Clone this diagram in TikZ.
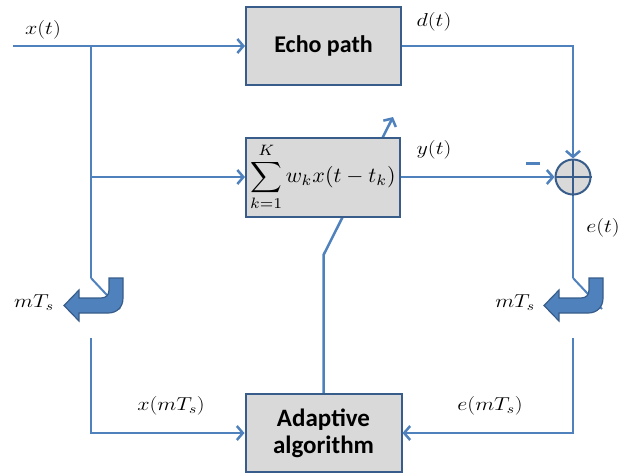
\RequirePackage{fix-cm}
\documentclass[tikz,border=0pt]{standalone}
\usepackage{fontspec}
\newfontfamily\boxfont{Carlito}
\usetikzlibrary{arrows.meta}
\definecolor{lineblue}{HTML}{4F81BD}
\definecolor{edgeblue}{HTML}{385D8A}
\definecolor{boxgray}{HTML}{D9D9D9}
\pgfdeclarelayer{bg}
\pgfsetlayers{bg,main}
\newcommand{\lbl}[1]{\scalebox{1.3}[1.1]{\fontsize{17}{20}\selectfont$#1$}}
\begin{document}
\begin{tikzpicture}[x=1pt,y=-1pt,
  wire/.style={draw=lineblue,line width=2.5pt},
  arr/.style={-{Straight Barb[length=6pt,width=14pt]}},
  blk/.style={draw=edgeblue,fill=boxgray,line width=2pt,inner sep=0pt},
  lab/.style={inner sep=0pt,text=black},
  swarrow/.style={fill=lineblue,draw=edgeblue,line width=1.2pt}]
\useasboundingbox (0,0) rectangle (642,475);

\node[blk,minimum width=155pt,minimum height=78pt,font=\boxfont\bfseries\fontsize{24}{28}\selectfont] (echo) at (323.5,46)
  {Echo path};
\node[blk,minimum width=154pt,minimum height=79pt] (filt) at (323,177)
  {\scalebox{2.2}[2.15]{$\displaystyle\sum_{k=1}^{K} w_k x(t-t_k)$}};
\node[blk,minimum width=156pt,minimum height=78pt,align=center,font=\boxfont\bfseries\fontsize{25}{27}\selectfont] (adapt) at (323.5,433)
  {Adaptive\\algorithm};
\node[circle,draw=edgeblue,fill=boxgray,line width=2pt,minimum size=35pt,inner sep=0pt] (sum) at (573,177) {};
\draw[edgeblue,line width=2pt] (sum.north) -- (sum.south) (sum.west) -- (sum.east);

\coordinate (xin) at (13,46);
\coordinate (br1) at (91,46);
\coordinate (br2) at (91,177);
\coordinate (swLa) at (91,278);
\coordinate (swLb) at (120,309);
\coordinate (xs) at (91,338);
\coordinate (swRa) at (573,278);
\coordinate (swRb) at (602,309);
\coordinate (es) at (573,338);
\coordinate (bend) at (323,255);
\coordinate (adtip) at (393,117);

\draw[wire,arr] (xin) -- (echo.west);
\draw[wire] (br1) -- (swLa);
\draw[wire,arr] (br2) -- (filt.west);
\draw[wire,line width=2pt] (swLa) -- (swLb);
\draw[wire,arr] (xs) |- (adapt.west);
\draw[wire,arr] (echo.east) -| (sum.north);
\draw[wire,arr] (filt.east) -- (sum.west);
\draw[wire] (sum.south) -- (swRa);
\draw[wire,line width=2pt] (swRa) -- (swRb);
\draw[wire,arr] (es) |- (adapt.east);
\begin{pgfonlayer}{bg}
\draw[wire,arr] (adapt.north) -- (adapt.north |- bend) -- (adtip);
\end{pgfonlayer}

\foreach \dx in {0,480}{
\begin{scope}[shift={(\dx,0)}]
\filldraw[swarrow] (123,278) -- (123,298) .. controls (123,307) and (117,313) .. (108,313)
  -- (79,313) -- (79,321) -- (64,305.5) -- (79,290) -- (79,298) -- (101,298)
  .. controls (106,298) and (109,295) .. (109,290) -- (109,278) -- cycle;
\end{scope}}

\fill[lineblue] (526,161.5) rectangle (540,164.5);

\node[lab] (lxt) at (43,30) {\lbl{x(t)}};
\node[lab] (ldt) at (434,22) {\lbl{d(t)}};
\node[lab] (lyt) at (434,150) {\lbl{y(t)}};
\node[lab] (let) at (603,228) {\lbl{e(t)}};
\node[lab] (lm1) at (34,303) {\lbl{mT_s}};
\node[lab] (lm2) at (515,303) {\lbl{mT_s}};
\node[lab] (lxm) at (171,406) {\lbl{x(mT_s)}};
\node[lab] (lem) at (490,406) {\lbl{e(mT_s)}};
\end{tikzpicture}
\end{document}
